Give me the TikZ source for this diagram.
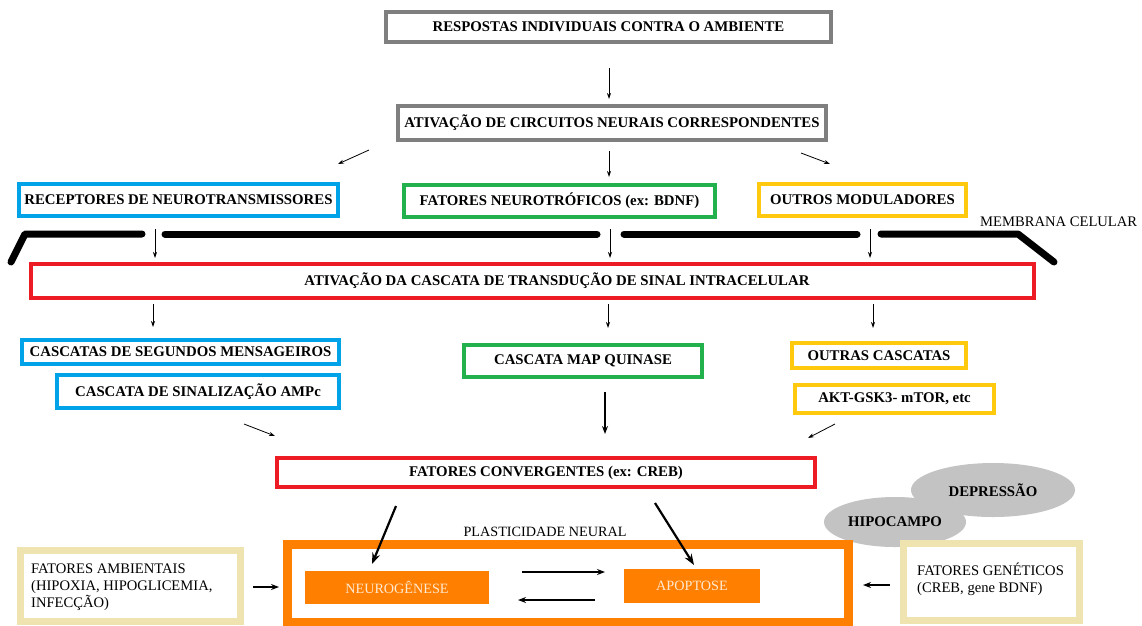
\documentclass[tikz,border=0pt]{standalone}
\usepackage{fontspec}
\setmainfont{Liberation Serif}
\usetikzlibrary{arrows.meta,shapes.geometric,calc}
\definecolor{cgray}{HTML}{7F7F7F}
\definecolor{cblue}{HTML}{00A2E8}
\definecolor{cgreen}{HTML}{22B14C}
\definecolor{cgold}{HTML}{FFC90E}
\definecolor{cred}{HTML}{ED1C24}
\definecolor{corange}{HTML}{FF8000}
\definecolor{ctan}{HTML}{EFE4B0}
\definecolor{cell}{HTML}{C3C3C3}
\definecolor{cpeach}{HTML}{FFE8D0}
\tikzset{
  lbl/.style={font=\fontsize{14.8}{16}\selectfont\bfseries, inner sep=0pt},
  reg/.style={font=\fontsize{14.6}{17}\selectfont, inner sep=0pt},
  framebox/.style={draw=#1, line width=4pt, fill=white, inner sep=0pt, font=\fontsize{14.8}{16}\selectfont\bfseries},
  arr/.style={-{Stealth[length=6pt,width=4pt]}, line width=0.8pt},
  bigarr/.style={-{Stealth[length=11pt,width=8pt]}, line width=2.2pt},
  midarr/.style={-{Stealth[length=8pt,width=6pt]}, line width=1.2pt},
  orbox/.style={fill=corange, inner sep=0pt, text=cpeach, font=\fontsize{14.2}{16}\selectfont},
  oval/.style={ellipse, fill=cell, inner sep=0pt, font=\fontsize{14.8}{16}\selectfont\bfseries},
  membrane/.style={line width=7pt, line cap=round, line join=round},
}
\begin{document}
\begin{tikzpicture}[x=1pt,y=-1pt]
\useasboundingbox[fill=white] (0,0) rectangle (1142,625);

% top boxes
\node[framebox=cgray, minimum width=445pt, minimum height=30pt] (resp) at (608.5,27) {RESPOSTAS INDIVIDUAIS CONTRA O AMBIENTE};
\node[framebox=cgray, minimum width=428pt, minimum height=34pt] (circ) at (612,123) {ATIVAÇÃO DE CIRCUITOS NEURAIS CORRESPONDENTES};

\node[framebox=cblue, minimum width=319pt, minimum height=32pt] (rec) at (178.5,200) {RECEPTORES DE NEUROTRANSMISSORES};
\node[framebox=cgreen, minimum width=311pt, minimum height=32pt] (ntf) at (559.5,201) {FATORES NEUROTRÓFICOS (ex: BDNF)};
\node[framebox=cgold, minimum width=207pt, minimum height=32pt] (mod) at (862.5,200) {OUTROS MODULADORES};
\node[reg, anchor=west] (memtxt) at (980,222) {MEMBRANA CELULAR};

% membrane
\coordinate (m0) at (11,262);
\coordinate (m1) at (25,234);
\coordinate (m2) at (142,234);
\coordinate (m3) at (165,234);
\coordinate (m4) at (597,234);
\coordinate (m5) at (624,234);
\coordinate (m6) at (857,234);
\coordinate (m7) at (881,234);
\coordinate (m8) at (1018,234);
\coordinate (m9) at (1054,262);
\draw[membrane] (m0) -- (m1) -- (m2);
\draw[membrane] (m3) -- (m4);
\draw[membrane] (m5) -- (m6);
\draw[membrane] (m7) -- (m8) -- (m9);

% signal transduction
\node[draw=cred, line width=4pt, fill=white, minimum width=1003pt, minimum height=34pt, inner sep=0pt] (sig) at (532.5,281) {};
\node[lbl] (sigt) at (557,281) {ATIVAÇÃO DA CASCATA DE TRANSDUÇÃO DE SINAL INTRACELULAR};

% cascades
\node[framebox=cblue, minimum width=317pt, minimum height=24pt] (sm) at (180.5,352) {CASCATAS DE SEGUNDOS MENSAGEIROS};
\node[framebox=cblue, minimum width=282pt, minimum height=33pt] (ampc) at (198,391.5) {CASCATA DE SINALIZAÇÃO AMPc};
\node[framebox=cgreen, minimum width=238pt, minimum height=32pt] (map) at (583,361) {CASCATA MAP QUINASE};
\node[framebox=cgold, minimum width=174pt, minimum height=25pt] (oc) at (879,355.5) {OUTRAS CASCATAS};
\node[framebox=cgold, minimum width=199pt, minimum height=28pt] (akt) at (894.5,399) {AKT-GSK3- mTOR, etc};

\node[framebox=cred, minimum width=538pt, minimum height=29pt] (conv) at (546,472.5) {FATORES CONVERGENTES (ex: CREB)};

% ellipses
\node[oval, minimum width=164pt, minimum height=54pt] (dep) at (993,490) {DEPRESSÃO};
\node[oval, minimum width=142pt, minimum height=50pt] (hip) at (895,522) {HIPOCAMPO};

% plasticity
\node[reg, font=\fontsize{14.2}{16}\selectfont] (plt) at (545,532) {PLASTICIDADE NEURAL};
\draw[corange, line width=9pt] (287,544.5) rectangle (848.5,622.5);
\node[orbox, minimum width=184pt, minimum height=33pt] (neu) at (397,587.5) {NEUROGÊNESE};
\node[orbox, minimum width=136pt, minimum height=34pt] (apo) at (692,586) {APOPTOSE};

% side boxes
\node[draw=ctan, line width=7pt, fill=white, minimum width=220pt, minimum height=71pt, inner sep=0pt] (amb) at (130.5,586) {};
\node[reg, align=left, anchor=west] (ambt) at (31,587) {FATORES AMBIENTAIS\\(HIPOXIA, HIPOGLICEMIA,\\INFECÇÃO)};
\node[draw=ctan, line width=7pt, fill=white, minimum width=176pt, minimum height=77pt, inner sep=0pt] (gen) at (991.5,582) {};
\node[reg, align=left, anchor=west] (gent) at (917,579) {FATORES GENÉTICOS\\(CREB, gene BDNF)};

% connector anchor coordinates
\coordinate (xa) at (609,0);
\coordinate (xl) at (155,0);
\coordinate (xm) at (610,0);
\coordinate (xr) at (870,0);
\coordinate (yl) at (153,0);
\coordinate (ym) at (608,0);
\coordinate (yr) at (873,0);
\coordinate (xmap) at (605,0);

% arrows
\draw[arr, shorten <=24pt, shorten >=5pt] (resp.south -| xa) -- (circ.north -| xa);
\coordinate (dl0) at (369,150);
\coordinate (dl1) at (338,164);
\coordinate (dr0) at (801,153);
\coordinate (dr1) at (830,164);
\draw[arr] (dl0) -- (dl1);
\draw[arr, shorten <=9pt, shorten >=6pt] (circ.south -| xa) -- (ntf.north -| xa);
\draw[arr] (dr0) -- (dr1);

\draw[arr, shorten <=11pt, shorten >=4pt] (rec.south -| xl) -- (sig.north -| xl);
\draw[arr, shorten <=10pt, shorten >=4pt] (ntf.south -| xm) -- (sig.north -| xm);
\draw[arr, shorten <=11pt, shorten >=4pt] (mod.south -| xr) -- (sig.north -| xr);

\draw[arr, shorten <=4pt, shorten >=11pt] (sig.south -| yl) -- (sm.north -| yl);
\draw[arr, shorten <=4pt, shorten >=15pt] (sig.south -| ym) -- (map.north -| ym);
\draw[arr, shorten <=4pt, shorten >=13pt] (sig.south -| yr) -- (oc.north -| yr);

\coordinate (cl0) at (244,424);
\coordinate (cl1) at (275,436);
\coordinate (cr0) at (835,424);
\coordinate (cr1) at (808,438);
\draw[arr] (cl0) -- (cl1);
\draw[midarr, shorten <=13pt, shorten >=22pt] (map.south -| xmap) -- (conv.north -| xmap);
\draw[arr] (cr0) -- (cr1);

\coordinate (a0) at (396,506);
\coordinate (a1) at (372,564);
\coordinate (b0) at (655,503);
\coordinate (b1) at (694,565);
\draw[bigarr] (a0) -- (a1);
\draw[bigarr] (b0) -- (b1);

\coordinate (t0) at (522,572);
\coordinate (t1) at (605,572);
\coordinate (u0) at (595,600);
\coordinate (u1) at (518,600);
\draw[midarr] (t0) -- (t1);
\draw[midarr] (u0) -- (u1);

\coordinate (e0) at (253,587);
\coordinate (e1) at (279,587);
\coordinate (g0) at (890,585);
\coordinate (g1) at (863,585);
\draw[midarr] (e0) -- (e1);
\draw[midarr] (g0) -- (g1);
\end{tikzpicture}
\end{document}
